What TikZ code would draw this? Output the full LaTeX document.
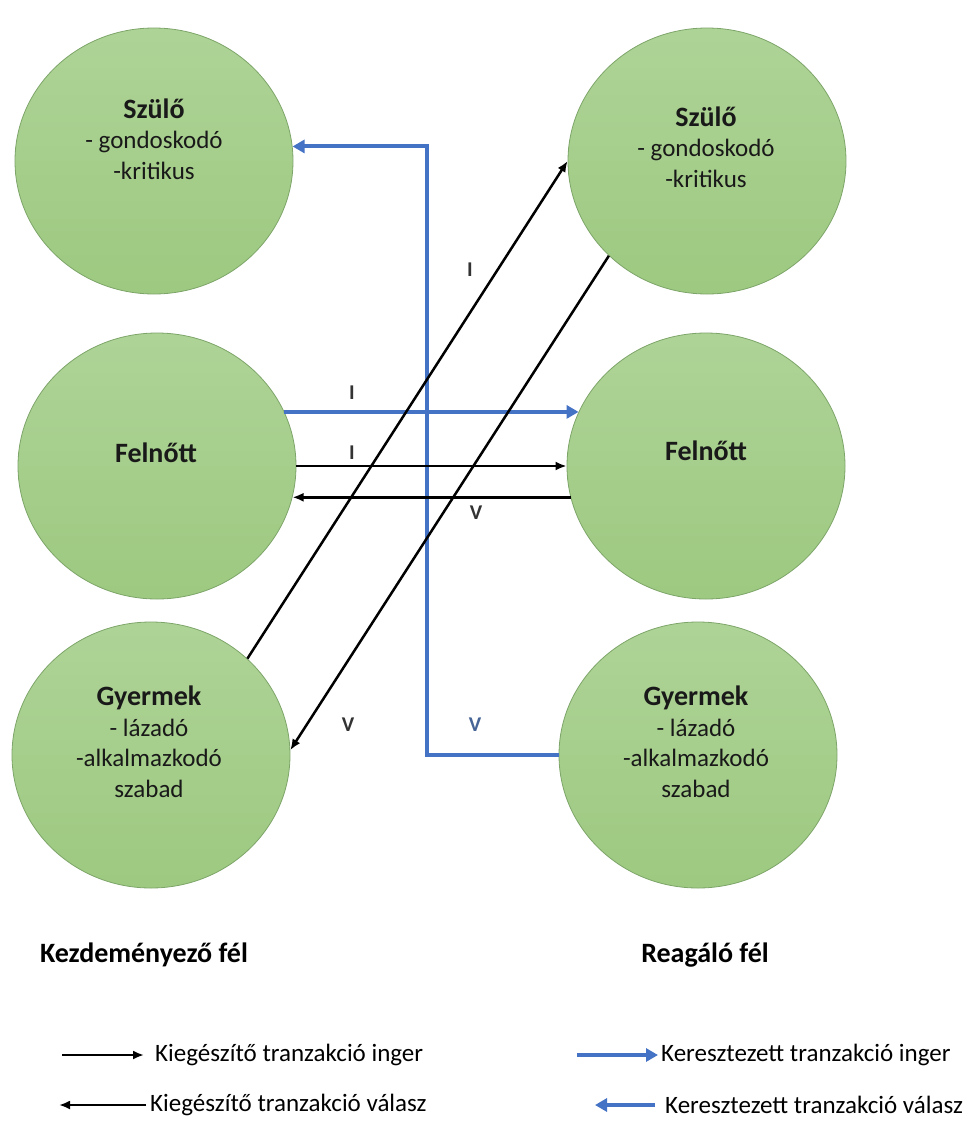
\documentclass[tikz,border=0pt]{standalone}
\usepackage{fontspec}
\setmainfont{Carlito}
\usetikzlibrary{shapes.geometric,arrows.meta}
\definecolor{egotop}{RGB}{174,211,151}
\definecolor{egobot}{RGB}{157,201,128}
\definecolor{egoline}{RGB}{125,165,105}
\definecolor{crossblue}{RGB}{68,114,196}
\definecolor{vblue}{RGB}{70,100,150}
\newcommand\egotitle{\fontsize{28}{33}\selectfont\bfseries}

\begin{document}
\begin{tikzpicture}[x=1pt,y=1pt,
  egostate/.style={ellipse, minimum width=278pt, minimum height=266pt, inner sep=0pt,
    draw=egoline, line width=0.8pt, top color=egotop, bottom color=egobot},
  statetext/.style={align=center, anchor=base, inner sep=0pt,
    font=\fontsize{25}{30.5}\selectfont, text=black!90},
  compl/.style={line width=2.5pt, -{Latex[length=11pt,width=9pt]}},
  crossed/.style={draw=crossblue, line width=4pt, -{Triangle[length=12pt,width=13pt]}},
  tlabel/.style={inner sep=0pt, font=\fontsize{21}{21}\selectfont\bfseries, text=black!80},
  legtext/.style={anchor=west, inner sep=0pt, font=\fontsize{25}{30}\selectfont},
  sidetitle/.style={anchor=base, inner sep=0pt, font=\fontsize{28}{32}\selectfont\bfseries}
]
\useasboundingbox (0,0) rectangle (967,-1138);

% ego states: initiating side (left) and responding side (right)
\node[egostate] (sL) at (154,-161) {};
\node[egostate] (sR) at (707,-161) {};
\node[egostate] (fL) at (157,-466) {};
\node[egostate] (fR) at (706,-466) {};
\node[egostate] (gL) at (151,-755) {};
\node[egostate] (gR) at (698,-755) {};

% state texts, placed by the baseline of their last line
\node[statetext] (sLt) at (154,-179) {{\egotitle Szülő}\\- gondoskodó\\-kritikus};
\node[statetext] (sRt) at (706,-187) {{\egotitle Szülő}\\- gondoskodó\\-kritikus};
\node[statetext] (fLt) at (156,-462) {{\egotitle Felnőtt}};
\node[statetext] (fRt) at (706,-460) {{\egotitle Felnőtt}};
\node[statetext] (gLt) at (149,-797) {{\egotitle Gyermek}\\- lázadó\\-alkalmazkodó\\szabad};
\node[statetext] (gRt) at (696,-797) {{\egotitle Gyermek}\\- lázadó\\-alkalmazkodó\\szabad};

% transactions
\coordinate (bendx) at (427,0);
\draw[crossed] (gR.west) -- (gR.west -| bendx) |- (sL.6);
\draw[crossed] (fL.23) -- (fR.157);
\draw[compl] (fL.east) -- (fR.west);
\draw[compl] (fR.193) -- (fL.347);
\draw[compl] (gL.45) -- (sR.180);
\draw[compl] (sR.224) -- (gL.2);

% stimulus / response marks
\node[tlabel] (lI1) at (352,-393) {I};
\node[tlabel] (lI2) at (352,-453) {I};
\node[tlabel] (lV1) at (476,-513) {V};
\node[tlabel] (lI3) at (470,-270) {I};
\node[tlabel] (lV2) at (348,-725) {V};
\node[tlabel, text=vblue] (lV3) at (475,-725) {V};

% side captions
\node[sidetitle] (kez) at (144,-962) {Kezdeményező fél};
\node[sidetitle] (rea) at (705,-962) {Reagáló fél};

% legend
\coordinate (k1s) at (62,-1055);
\coordinate (k1e) at (144,-1055);
\coordinate (k2s) at (146,-1105);
\coordinate (k2e) at (59,-1105);
\coordinate (b1s) at (577,-1055);
\coordinate (b1e) at (658,-1055);
\coordinate (b2s) at (655,-1105);
\coordinate (b2e) at (595,-1105);
\draw[compl] (k1s) -- (k1e);
\draw[compl] (k2s) -- (k2e);
\draw[crossed] (b1s) -- (b1e);
\draw[crossed] (b2s) -- (b2e);
\node[legtext] (k1t) at (155,-1055) {Kiegészítő tranzakció inger};
\node[legtext] (k2t) at (150,-1105) {Kiegészítő tranzakció válasz};
\node[legtext] (b1t) at (661,-1055) {Keresztezett tranzakció inger};
\node[legtext] (b2t) at (665,-1105) {Keresztezett tranzakció válasz};
\end{tikzpicture}
\end{document}
